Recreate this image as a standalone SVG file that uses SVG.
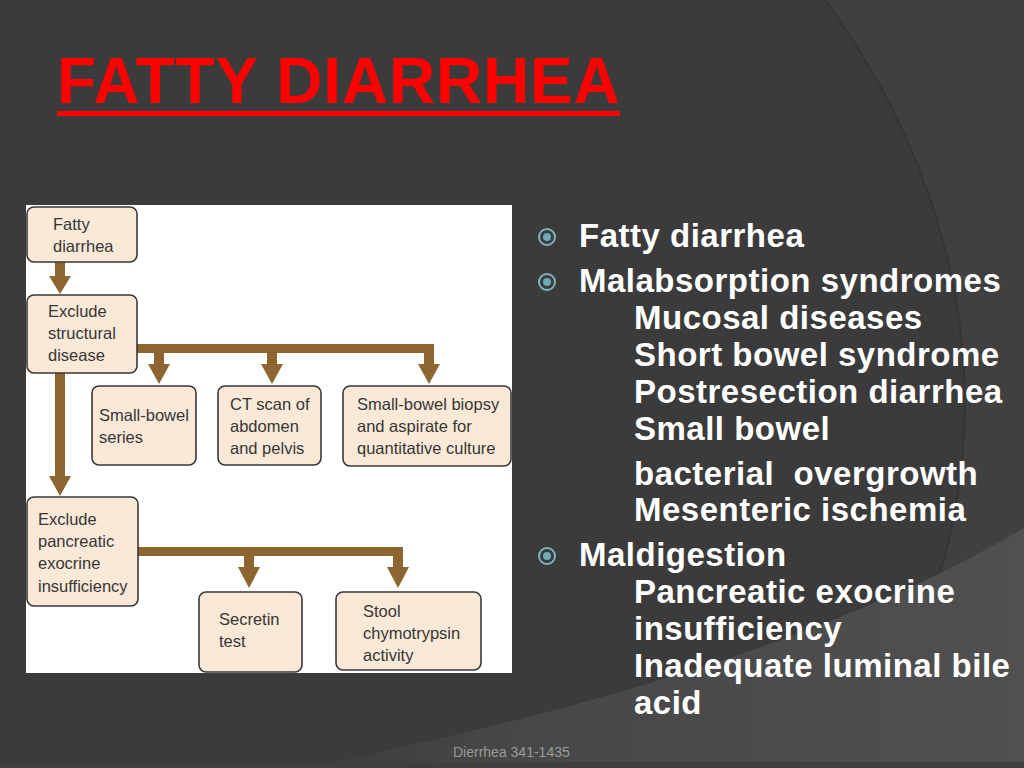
<svg xmlns="http://www.w3.org/2000/svg" width="1024" height="768" viewBox="0 0 1024 768">
<defs>
<style>
.box{fill:#fbe9d7;stroke:#383838;stroke-width:1.6}
.bt{font-family:"Liberation Sans",Arial,sans-serif;font-size:16.5px;fill:#363636}
.arr{fill:#8d6530}
.rt{font-family:"Liberation Sans",Arial,sans-serif;font-size:33px;font-weight:bold;fill:#ffffff;letter-spacing:0.5px}
.bul{fill:none;stroke:#7fb3bd;stroke-width:2}
.dot{fill:#6ea9b5}
</style>
<linearGradient id="band" x1="300" y1="0" x2="1024" y2="0" gradientUnits="userSpaceOnUse">
<stop offset="0" stop-color="#4a4a4a" stop-opacity="0"/>
<stop offset="0.3" stop-color="#474747" stop-opacity="1"/>
<stop offset="1" stop-color="#505050" stop-opacity="1"/>
</linearGradient>
</defs>
<g id="background">
<rect x="0" y="0" width="1024" height="768" fill="#3b3b3b"/>
<path d="M825 0 C1010 250 1010 560 833 768 L1024 768 L1024 0 Z" fill="#404040"/>
<path d="M825 0 C1010 250 1010 560 833 768" fill="none" stroke="#353535" stroke-width="2"/>
<path d="M300 768 C520 725 820 650 1024 528 L1024 768 Z" fill="url(#band)"/>
<rect x="0" y="762" width="1024" height="6" fill="#3f3f3f"/>
</g>
<g id="title">
<text x="57" y="103" font-family="Liberation Sans,Arial,sans-serif" font-size="64" font-weight="bold" fill="#ff0000" letter-spacing="0.8">FATTY DIARRHEA</text>
<rect x="57" y="111" width="563" height="5" fill="#ff0000"/>
</g>
<rect id="panel" x="26" y="205" width="486" height="468" fill="#ffffff"/>
<g id="connectors">
<rect class="arr" x="55" y="262" width="10" height="16"/>
<polygon class="arr" points="49,276 71,276 60,294"/>
<rect class="arr" x="55" y="373" width="10" height="105"/>
<polygon class="arr" points="49,476 71,476 60,496"/>
<rect class="arr" x="137" y="344" width="297" height="9"/>
<rect class="arr" x="154" y="350" width="10" height="16"/>
<polygon class="arr" points="148,364 170,364 159,384"/>
<rect class="arr" x="267" y="350" width="10" height="16"/>
<polygon class="arr" points="261,364 283,364 272,384"/>
<rect class="arr" x="424" y="350" width="10" height="16"/>
<polygon class="arr" points="418,364 440,364 429,384"/>
<rect class="arr" x="138" y="547" width="265" height="9"/>
<rect class="arr" x="244" y="553" width="10" height="16"/>
<polygon class="arr" points="238,567 260,567 249,588"/>
<rect class="arr" x="393" y="553" width="10" height="16"/>
<polygon class="arr" points="387,567 409,567 398,588"/>
</g>
<g id="node-fatty">
<rect class="box" x="27" y="207" width="110" height="55" rx="7"/>
<text class="bt" x="53" y="230">Fatty</text>
<text class="bt" x="53" y="252">diarrhea</text>
</g>
<g id="node-structural">
<rect class="box" x="27" y="295" width="110" height="78" rx="7"/>
<text class="bt" x="48" y="317">Exclude</text>
<text class="bt" x="48" y="339">structural</text>
<text class="bt" x="48" y="361">disease</text>
</g>
<g id="node-sbseries">
<rect class="box" x="92" y="386" width="104" height="79" rx="7"/>
<text class="bt" x="99" y="421">Small-bowel</text>
<text class="bt" x="99" y="443">series</text>
</g>
<g id="node-ct">
<rect class="box" x="218" y="386" width="103" height="79" rx="7"/>
<text class="bt" x="230" y="410">CT scan of</text>
<text class="bt" x="230" y="432">abdomen</text>
<text class="bt" x="230" y="454">and pelvis</text>
</g>
<g id="node-biopsy">
<rect class="box" x="343" y="386" width="168" height="80" rx="7"/>
<text class="bt" x="357" y="410">Small-bowel biopsy</text>
<text class="bt" x="357" y="432">and aspirate for</text>
<text class="bt" x="357" y="454">quantitative culture</text>
</g>
<g id="node-pancreatic">
<rect class="box" x="27" y="497" width="111" height="109" rx="7"/>
<text class="bt" x="38" y="525">Exclude</text>
<text class="bt" x="38" y="547">pancreatic</text>
<text class="bt" x="38" y="569">exocrine</text>
<text class="bt" x="38" y="592">insufficiency</text>
</g>
<g id="node-secretin">
<rect class="box" x="199" y="592" width="103" height="80" rx="7"/>
<text class="bt" x="219" y="625">Secretin</text>
<text class="bt" x="219" y="647">test</text>
</g>
<g id="node-stool">
<rect class="box" x="336" y="592" width="145" height="78" rx="7"/>
<text class="bt" x="363" y="617">Stool</text>
<text class="bt" x="363" y="639">chymotrypsin</text>
<text class="bt" x="363" y="661">activity</text>
</g>
<g id="bullets">
<circle class="bul" cx="547" cy="237" r="8"/><circle class="dot" cx="547" cy="237" r="4"/>
<circle class="bul" cx="547" cy="282" r="8"/><circle class="dot" cx="547" cy="282" r="4"/>
<circle class="bul" cx="547" cy="556" r="8"/><circle class="dot" cx="547" cy="556" r="4"/>
<text class="rt" x="579" y="247">Fatty diarrhea</text>
<text class="rt" x="579" y="292">Malabsorption syndromes</text>
<text class="rt" x="634" y="329">Mucosal diseases</text>
<text class="rt" x="634" y="366">Short bowel syndrome</text>
<text class="rt" x="634" y="403">Postresection diarrhea</text>
<text class="rt" x="634" y="440">Small bowel</text>
<text class="rt" x="634" y="485" xml:space="preserve">bacterial  overgrowth</text>
<text class="rt" x="634" y="521">Mesenteric ischemia</text>
<text class="rt" x="579" y="566">Maldigestion</text>
<text class="rt" x="634" y="603">Pancreatic exocrine</text>
<text class="rt" x="634" y="640">insufficiency</text>
<text class="rt" x="634" y="677">Inadequate luminal bile</text>
<text class="rt" x="634" y="714">acid</text>
</g>
<text id="footer" x="453" y="757" font-family="Liberation Sans,Arial,sans-serif" font-size="14" fill="#9a9a9a">Dierrhea 341-1435</text>
</svg>
